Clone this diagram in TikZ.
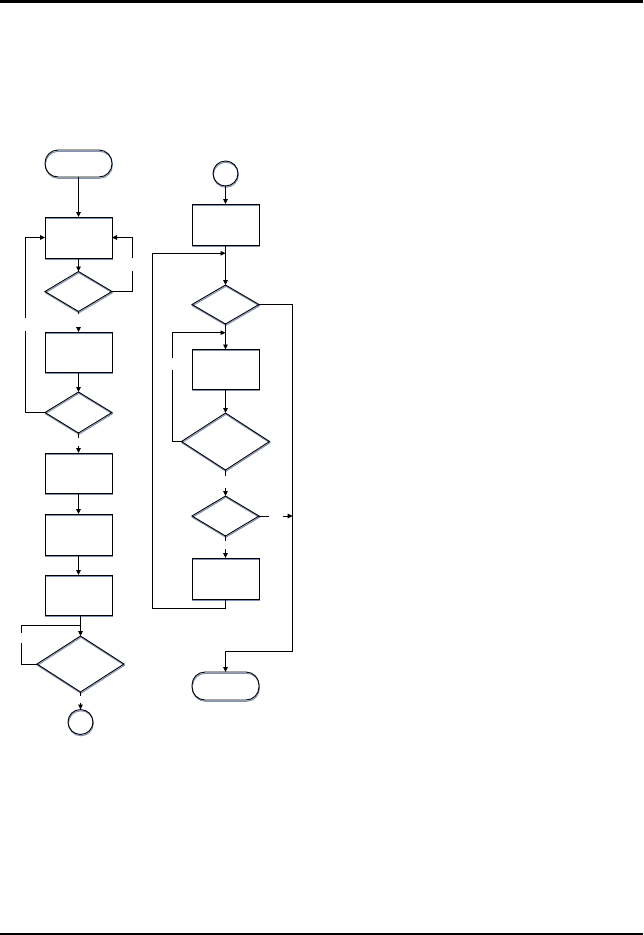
\documentclass[tikz,border=0pt]{standalone}
\usetikzlibrary{shapes.geometric,arrows.meta,shadows}
\definecolor{shadowc}{RGB}{125,145,180}
\begin{document}
\begin{tikzpicture}[x=1pt,y=-1pt,
  every node/.style={inner sep=0pt,outer sep=0pt},
  sh/.style={drop shadow={shadow xshift=0.4pt,shadow yshift=-1.3pt,fill=none,draw=shadowc,opacity=1,line width=1pt}},
  proc/.style={draw,rectangle,line width=0.9pt,minimum width=67pt,minimum height=41pt,sh},
  dec/.style={draw,diamond,line width=0.9pt,minimum width=67pt,minimum height=40pt,sh},
  bigdec/.style={dec,minimum width=88pt,minimum height=57pt},
  term/.style={draw,rectangle,rounded corners=13pt,line width=0.9pt,minimum width=67pt,minimum height=27pt,sh},
  conn/.style={draw,line width=0.9pt},
  arr/.style={conn,-{Triangle[length=5pt,width=4.5pt]}},
  rule/.style={draw,line width=2.5pt}
]
\useasboundingbox (0,0) rectangle (643,935);
% page rules
\coordinate (tl) at (0,1.5); \coordinate (tr) at (643,1.5);
\coordinate (bl) at (0,933.8); \coordinate (br) at (643,933.8);
\draw[rule] (tl) -- (tr);
\draw[rule,line width=2.3pt] (bl) -- (br);

% left column
\node[term] (start) at (78.5,163.5) {};
\node[proc] (b1) at (78.5,237.5) {};
\node[dec]  (d1) at (78.5,291.5) {};
\node[proc,minimum height=40pt] (b2) at (78.5,352) {};
\node[dec,minimum height=41pt] (d2) at (78.5,412.5) {};
\node[proc,minimum height=40pt] (b3) at (78.5,473) {};
\node[proc] (b4) at (78.5,534.5) {};
\node[proc,minimum height=40pt] (b5) at (78.5,595) {};
\node[bigdec,minimum width=87pt,minimum height=56pt] (d3) at (80.5,664) {};
\node[draw,circle,line width=0.9pt,minimum size=25pt,sh] (c1) at (80.5,722) {};

% right column
\node[draw,circle,line width=0.9pt,minimum size=25pt,sh] (c2) at (225.5,173.5) {};
\node[proc] (b6) at (225.5,224.5) {};
\node[dec,minimum height=39pt] (d4) at (225.5,304.5) {};
\node[proc,minimum height=40pt] (b7) at (225.5,369.5) {};
\node[bigdec] (d5) at (225.5,441.5) {};
\node[dec] (d6) at (225.5,516) {};
\node[proc] (b9) at (225.5,578.5) {};
\node[term,minimum height=28pt] (end) at (225.5,686) {};

% gap coordinates
\coordinate (r1a) at (132,271);   \coordinate (r1b) at (132,258);
\coordinate (g2a) at (78.5,314);  \coordinate (g2b) at (78.5,327);
\coordinate (l2a) at (25,331);    \coordinate (l2b) at (25,318);
\coordinate (g3a) at (78.5,438);  \coordinate (g3b) at (78.5,446);
\coordinate (l3a) at (21,643);    \coordinate (l3b) at (21,633);
\coordinate (j3)  at (80.5,625);
\coordinate (g4a) at (80.5,696);  \coordinate (g4b) at (80.5,703);
\coordinate (rr)  at (292.7,651.7);
\coordinate (l5a) at (172.3,370); \coordinate (l5b) at (172.3,358);
\coordinate (j5)  at (225.5,332.7);
\coordinate (ll)  at (152.7,608.3);
\coordinate (j6)  at (225.5,253.3);
\coordinate (g5a) at (225.5,476); \coordinate (g5b) at (225.5,488);
\coordinate (g6a) at (269.3,516); \coordinate (g6b) at (283,516);
\coordinate (j7)  at (292.7,516);
\coordinate (g7a) at (225.5,541); \coordinate (g7b) at (225.5,549);

% left connectors
\draw[arr] (start) -- (b1);
\draw[arr] (b1) -- (d1);
\draw[conn] (d1.east) -| (r1a);
\draw[arr] (r1b) |- (b1.east);
\draw[conn] (d1.south) -- (g2a);
\draw[arr] (g2b) -- (b2.north);
\draw[arr] (b2) -- (d2);
\draw[conn] (d2.west) -| (l2a);
\draw[arr] (l2b) |- (b1.west);
\draw[conn] (d2.south) -- (g3a);
\draw[arr] (g3b) -- (b3.north);
\draw[arr] (b3) -- (b4);
\draw[arr] (b4) -- (b5);
\draw[arr] (d3.north |- b5.south) -- (d3.north);
\draw[conn] (d3.west) -| (l3a);
\draw[conn] (l3b) |- (j3);
\draw[conn] (d3.south) -- (g4a);
\draw[arr] (g4b) -- (c1.north);

% right connectors
\draw[arr] (c2) -- (b6);
\draw[arr] (b6) -- (d4);
\draw[arr] (d4.east) -| (rr) -| (end.north);
\draw[arr] (d4) -- (b7);
\draw[arr] (b7) -- (d5);
\draw[conn] (d5.west) -| (l5a);
\draw[arr] (l5b) |- (j5);
\draw[arr] (b9.south) |- (ll) |- (j6);
\draw[conn] (d5.south) -- (g5a);
\draw[arr] (g5b) -- (d6.north);
\draw[conn] (d6.east) -- (g6a);
\draw[arr] (g6b) -- (j7);
\draw[conn] (d6.south) -- (g7a);
\draw[arr] (g7b) -- (b9.north);
\end{tikzpicture}
\end{document}
